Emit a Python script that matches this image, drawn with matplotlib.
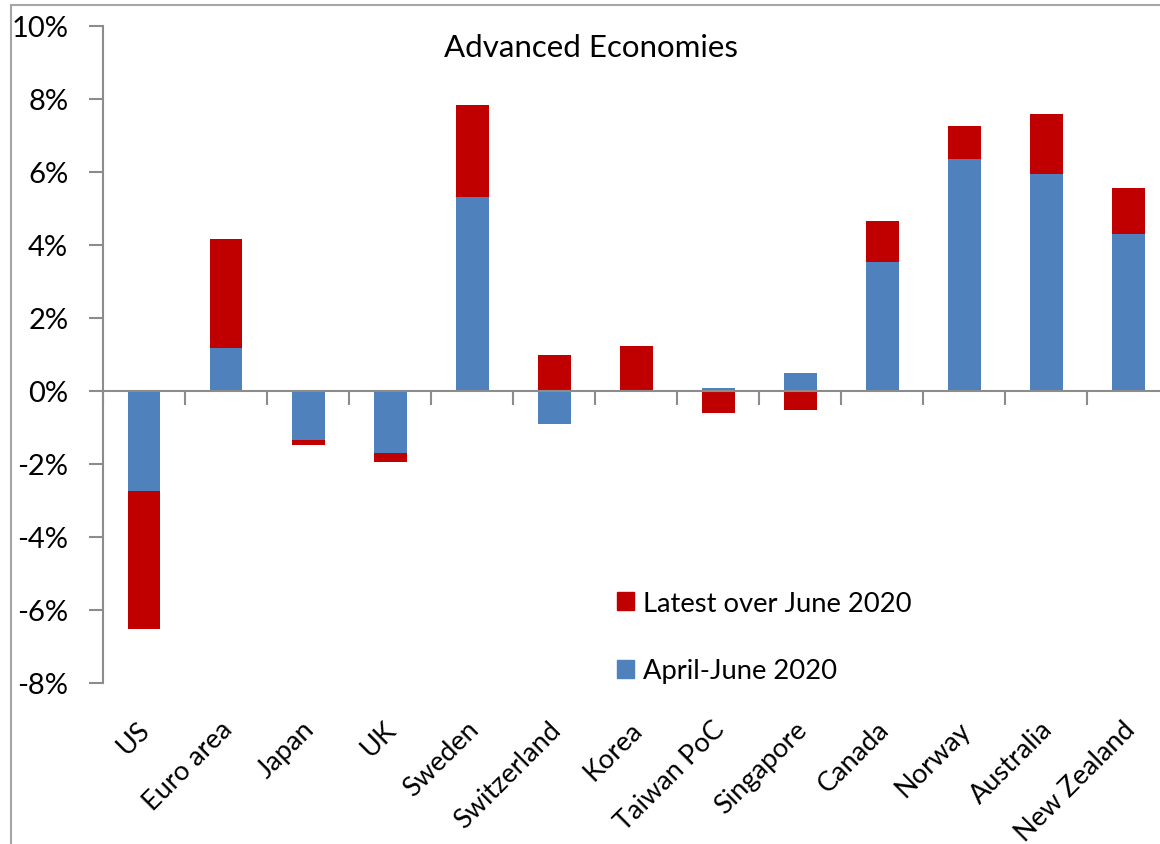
import numpy as np
import matplotlib
matplotlib.use("Agg")
import matplotlib.pyplot as plt
import matplotlib.transforms as mtransforms
from matplotlib.lines import Line2D
from matplotlib.patches import Patch

plt.rcParams['font.family'] = ['Lato', 'DejaVu Sans']

# Dados (em %)
countries = ['US', 'Euro area', 'Japan', 'UK', 'Sweden', 'Switzerland', 'Korea',
             'Taiwan PoC', 'Singapore', 'Canada', 'Norway', 'Australia', 'New Zealand']
april_june = [-2.74, 1.18, -1.34, -1.70, 5.31, -0.92, -0.04, 0.09, 0.48, 3.53, 6.35, 5.94, 4.29]
latest_over_june = [-3.77, 2.98, -0.14, -0.26, 2.52, 0.98, 1.22, -0.60, -0.53, 1.11, 0.91, 1.64, 1.26]
yticks = [-8, -6, -4, -2, 0, 2, 4, 6, 8, 10]

blue = '#4F81BD'
red = '#C00000'
grey = '#8C8C8C'

fig = plt.figure(figsize=(11.6, 8.45), dpi=100)
W, H = 1160, 845
ax = fig.add_axes([103 / W, 1 - 684 / H, (1169.5 - 103) / W, (684 - 26.7) / H])

x = np.arange(len(countries))
a = np.array(april_june)
b = np.array(latest_over_june)
# empilhamento estilo Excel: positivos sobre positivos, negativos sobre negativos
bottom_red = np.where(np.sign(a) == np.sign(b), a, 0)

ax.bar(x, a, width=0.4, color=blue, edgecolor='none', zorder=2)
ax.bar(x, b, bottom=bottom_red, width=0.4, color=red, edgecolor='none', zorder=2)

ax.set_xlim(-0.5, len(countries) - 0.5)
ax.set_ylim(-8, 10)
ax.set_yticks(yticks)
ax.set_yticklabels([f'{t}%' for t in yticks], fontsize=21)
ax.tick_params(axis='y', length=10, width=1.5, color=grey, pad=15)

# eixo x no zero, marcas entre categorias
ax.spines['bottom'].set_position(('data', 0))
ax.spines['bottom'].set_color(grey)
ax.spines['bottom'].set_linewidth(1.5)
ax.spines['left'].set_color(grey)
ax.spines['left'].set_linewidth(1.5)
ax.spines['top'].set_visible(False)
ax.spines['right'].set_visible(False)
ax.set_xticks(np.arange(len(countries) + 1) - 0.5)
ax.set_xticklabels([])
ax.tick_params(axis='x', direction='out', length=10, width=1.5, color=grey)

trans = mtransforms.blended_transform_factory(ax.transData, ax.transAxes)
for i, name in enumerate(countries):
    ax.text(i + 0.03, -42 / 657.3, name, transform=trans, rotation=45,
            ha='right', va='center', rotation_mode='anchor', fontsize=19.5)

fig.text(591 / W, 1 - 48 / H, 'Advanced Economies', ha='center', va='center', fontsize=22.5)

handles = [Patch(color=red, label='Latest over June 2020'),
           Patch(color=blue, label='April-June 2020')]
fig.legend(handles=handles, loc='upper left', bbox_to_anchor=(617 / W, 1 - 592 / H),
           frameon=False, fontsize=19.7, handlelength=0.63, handleheight=0.63,
           handletextpad=0.33, labelspacing=1.55, borderpad=0, borderaxespad=0)

# moldura do gráfico
fig.add_artist(Line2D([11 / W, 11 / W], [0, 1 - 6 / H], color='#A6A6A6', lw=1.5))
fig.add_artist(Line2D([11 / W, 1], [1 - 6 / H, 1 - 6 / H], color='#A6A6A6', lw=1.5))

fig.savefig('out.png', dpi=100)
